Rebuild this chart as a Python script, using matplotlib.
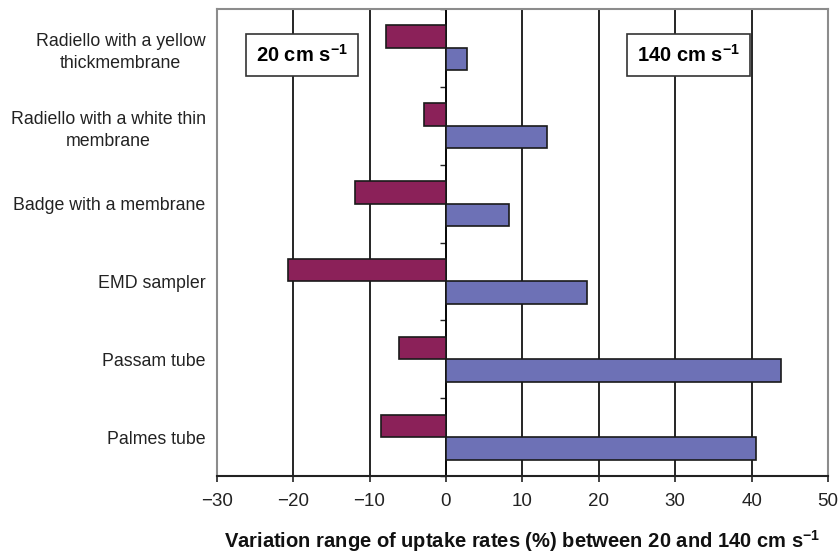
import numpy as np
import matplotlib
matplotlib.use("Agg")
import matplotlib.pyplot as plt

plt.rcParams['font.family'] = ['Liberation Sans', 'DejaVu Sans']
plt.rcParams['mathtext.fontset'] = 'custom'
plt.rcParams['mathtext.rm'] = 'Liberation Sans'
plt.rcParams['mathtext.bf'] = 'Liberation Sans:bold'

# data, top to bottom
samplers = ['Radiello with a yellow\nthickmembrane',
            'Radiello with a white thin\nmembrane',
            'Badge with a membrane',
            'EMD sampler',
            'Passam tube',
            'Palmes tube']
low_speed = [-7.8, -2.9, -11.9, -20.7, -6.1, -8.5]    # 20 cm s-1
high_speed = [2.7, 13.2, 8.2, 18.4, 43.9, 40.6]      # 140 cm s-1
x_ticks = [-30, -20, -10, 0, 10, 20, 30, 40, 50]

maroon = '#8B2159'
blue = '#6D71B6'
narrow = ['Liberation Sans Narrow', 'Liberation Sans', 'DejaVu Sans']

fig = plt.figure(figsize=(8.4, 5.55), dpi=100)
ax = fig.add_axes([0.258, 0.1423, 0.7277, 0.8415])

y = np.arange(len(samplers))
h = 0.29
ax.barh(y - h / 2, low_speed, height=h, color=maroon, edgecolor='#1a1a1a',
        linewidth=1.2, zorder=3)
ax.barh(y + h / 2, high_speed, height=h, color=blue, edgecolor='#1a1a1a',
        linewidth=1.2, zorder=3)

ax.set_xlim(x_ticks[0], x_ticks[-1])
ax.set_ylim(len(samplers) - 0.5, -0.5)
ax.set_xticks(x_ticks)
ax.set_xticklabels([f'{t}'.replace('-', '\u2212') for t in x_ticks],
                   family=narrow, fontsize=13.5, color='#222222')
ax.tick_params(axis='x', direction='out', length=4, width=1.2, color='#222222',
               pad=8)
ax.set_yticks(y)
ax.set_yticklabels(samplers, fontsize=12.8, color='#222222', ha='right',
                   multialignment='center', linespacing=1.4)
ax.tick_params(axis='y', length=0, pad=8)

ax.grid(axis='x', color='black', linewidth=1.2, zorder=1)
ax.set_axisbelow(True)
for s in ['left', 'right', 'top']:
    ax.spines[s].set_color('#8c8c8c')
    ax.spines[s].set_linewidth(1.5)
ax.spines['bottom'].set_color('#222222')
ax.spines['bottom'].set_linewidth(1.5)

# category axis crossing at zero, with ticks between the categories
zero_pos = (0 - x_ticks[0]) / (x_ticks[-1] - x_ticks[0])
sec = ax.secondary_yaxis(zero_pos)
sec.set_yticks(np.arange(len(samplers) + 1) - 0.5)
sec.set_yticklabels([])
sec.tick_params(direction='out', length=4, width=1, color='#222222')
sec.spines['left'].set_color('#222222')
sec.spines['left'].set_linewidth(1.2)

box = dict(boxstyle='square,pad=0.5', facecolor='white', edgecolor='#333333',
           linewidth=1.2)
ax.text(-18.8, 0.09, r'20 cm s$^{\mathbf{-1}}$', family=narrow, fontsize=14.5,
        fontweight='bold', ha='center', va='center', bbox=box, zorder=5)
ax.text(31.8, 0.09, r'140 cm s$^{\mathbf{-1}}$', family=narrow, fontsize=14.5,
        fontweight='bold', ha='center', va='center', bbox=box, zorder=5)

ax.set_xlabel(r'Variation range of uptake rates (%) between 20 and 140 cm s$^{\mathbf{-1}}$',
              fontsize=14.5, fontweight='bold', color='#111111', labelpad=13)

fig.savefig('out.png', dpi=100)
